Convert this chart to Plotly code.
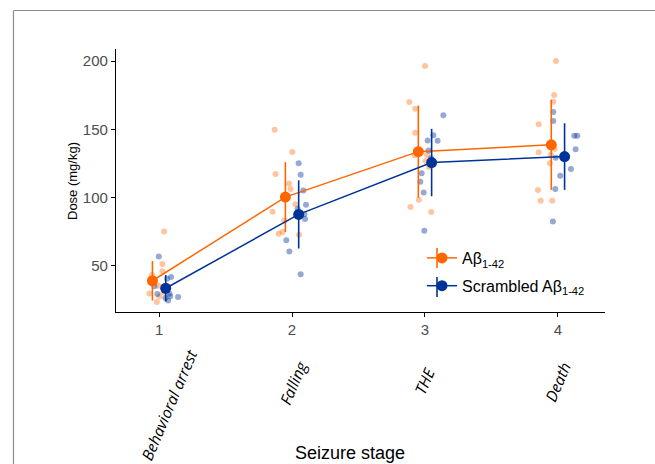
import plotly.graph_objects as go

# ---------------- data ----------------
stages = ["Behavioral arrest", "Falling", "THE", "Death"]
stage_pos = [1, 2, 3, 4]
x_ticks = ["1", "2", "3", "4"]
y_ticks = [50, 100, 150, 200]

ab_mean = [39.0, 100.3, 133.6, 138.6]
ab_err = [14.5, 25.6, 33.8, 33.0]
scr_mean = [33.5, 87.6, 125.6, 130.0]
scr_err = [9.7, 25.0, 24.7, 24.4]

# individual animals (jittered x, dose)
ab_x = [1.038, 1.025, 1.025, 0.947, 0.995, 0.927, 0.983, 1.002, 1.032,
        1.869, 2.002, 1.876, 1.977, 1.989, 2.025, 1.854, 1.942, 1.929, 1.899, 2.053,
        3.000, 2.882, 2.927, 2.927, 2.922, 3.015, 3.005, 3.030, 2.954, 2.891, 3.047,
        3.985, 3.972, 3.965, 3.855, 3.975, 3.855, 3.947, 3.940, 3.850, 3.870, 3.957]
ab_dose = [75.0, 51.2, 46.0, 43.2, 35.4, 29.6, 23.5, 27.5, 30.7,
           149.7, 133.4, 117.3, 110.2, 106.3, 95.1, 89.5, 82.9, 74.7, 73.4, 72.7,
           196.3, 170.0, 165.1, 147.5, 131.0, 131.2, 126.8, 122.4, 98.3, 93.0, 89.3,
           200.0, 175.1, 170.2, 153.7, 135.6, 133.2, 131.4, 125.1, 105.4, 97.6, 97.6]

scr_x = [0.998, 1.090, 1.060, 0.965, 0.987, 1.078, 1.083, 1.143, 1.047, 1.068,
         2.050, 2.065, 2.085, 2.042, 2.105, 2.093, 2.098, 1.957, 1.980, 2.065,
         3.138, 3.063, 3.020, 3.095, 3.027, 2.975, 2.965, 2.990, 2.995, 3.045,
         3.965, 3.965, 4.123, 4.145, 4.133, 3.983, 4.098, 4.017, 3.980, 3.962]
scr_dose = [56.8, 41.7, 40.5, 35.0, 29.3, 29.5, 27.6, 27.1, 26.4, 24.6,
            125.1, 116.6, 105.1, 91.5, 94.6, 87.8, 84.2, 68.7, 60.4, 43.7,
            160.3, 145.6, 141.7, 141.5, 134.4, 117.8, 111.5, 103.6, 75.6, 128.8,
            162.7, 156.1, 145.3, 145.3, 135.4, 129.2, 120.8, 115.9, 106.3, 82.4]

dodge = 0.05
ORANGE = "#FF6600"
BLUE = "#003399"
FONT = "Liberation Sans, Arial, sans-serif"

fig = go.Figure()

fig.add_trace(go.Scatter(x=ab_x, y=ab_dose, mode="markers", showlegend=False,
                         marker=dict(color=ORANGE, opacity=0.38, size=6, line=dict(width=0)),
                         hoverinfo="skip"))
fig.add_trace(go.Scatter(x=scr_x, y=scr_dose, mode="markers", showlegend=False,
                         marker=dict(color=BLUE, opacity=0.42, size=6, line=dict(width=0)),
                         hoverinfo="skip"))

fig.add_trace(go.Scatter(
    x=[p - dodge for p in stage_pos], y=ab_mean, mode="lines+markers",
    name="Aβ<sub>1-42</sub>", legendgroup="a",
    line=dict(color=ORANGE, width=1.5),
    marker=dict(color=ORANGE, size=11),
    error_y=dict(type="data", array=ab_err, color=ORANGE, thickness=1.6, width=0)))
fig.add_trace(go.Scatter(
    x=[p + dodge for p in stage_pos], y=scr_mean, mode="lines+markers",
    name="Scrambled Aβ<sub>1-42</sub>", legendgroup="b",
    line=dict(color=BLUE, width=1.5),
    marker=dict(color=BLUE, size=11),
    error_y=dict(type="data", array=scr_err, color=BLUE, thickness=1.6, width=0)))

# pixel geometry of plot area
L, R, T, B = 116, 605, 49, 312
W_, H_ = R - L, B - T

def px_x(px):
    return (px - L) / W_

def px_y(py):
    return (B - py) / H_

annotations = []
label_offsets = [0.075, 0.006, -0.003, -0.003]
label_centers_y = [405, 382.5, 381, 381.7]
for name, pos, off, cy in zip(stages, stage_pos, label_offsets, label_centers_y):
    annotations.append(dict(
        x=pos + off, xref="x", y=px_y(cy), yref="paper",
        text=f"<i>{name}</i>", showarrow=False, textangle=-67,
        xanchor="center", yanchor="middle",
        font=dict(family="Open Sans, Noto Sans, sans-serif", size=15.5, color="black")))

annotations.append(dict(
    x=px_x(350), y=px_y(453), xref="paper", yref="paper",
    text="Seizure stage", showarrow=False, xanchor="center", yanchor="middle",
    font=dict(family=FONT, size=18, color="black")))
annotations.append(dict(
    x=px_x(72), y=px_y(181), xref="paper", yref="paper",
    text="Dose (mg/kg)", showarrow=False, textangle=-90,
    xanchor="center", yanchor="middle",
    font=dict(family=FONT, size=13, color="black")))

shapes = [
    dict(type="line", xref="paper", yref="paper",
         x0=px_x(13.5), x1=px_x(660), y0=px_y(10.5), y1=px_y(10.5),
         line=dict(color="#8C8C8C", width=1.2)),
    dict(type="line", xref="paper", yref="paper",
         x0=px_x(13.5), x1=px_x(13.5), y0=px_y(10.5), y1=px_y(470),
         line=dict(color="#8C8C8C", width=1.2)),
]
# vertical error-bar part of the legend keys
for cy, col in [(258, ORANGE), (287, BLUE)]:
    shapes.append(dict(type="line", xref="paper", yref="paper",
                       x0=px_x(437), x1=px_x(437), y0=px_y(cy - 10), y1=px_y(cy + 10),
                       line=dict(color=col, width=1.6)))

fig.update_layout(
    width=655, height=464,
    margin=dict(l=L, r=655 - R, t=T, b=464 - B),
    paper_bgcolor="white", plot_bgcolor="white",
    font=dict(family=FONT),
    showlegend=True,
    legend=dict(x=px_x(422), y=px_y(241), xanchor="left", yanchor="top",
                bgcolor="rgba(0,0,0,0)", font=dict(family=FONT, size=16, color="black"),
                traceorder="grouped", tracegroupgap=4),
    xaxis=dict(range=[0.676, 4.354], tickmode="array", tickvals=stage_pos, ticktext=x_ticks,
               showgrid=False, zeroline=False, showline=True, linecolor="black", linewidth=1.3,
               ticks="outside", ticklen=4, tickcolor="black",
               tickfont=dict(family=FONT, size=15, color="#4D4D4D")),
    yaxis=dict(range=[16.1, 208.8], tickmode="array", tickvals=y_ticks,
               showgrid=False, zeroline=False, showline=True, linecolor="black", linewidth=1.3,
               ticks="outside", ticklen=4, tickcolor="black",
               tickfont=dict(family=FONT, size=15, color="#4D4D4D")),
    annotations=annotations,
    shapes=shapes,
)

fig.write_html("out.html")
